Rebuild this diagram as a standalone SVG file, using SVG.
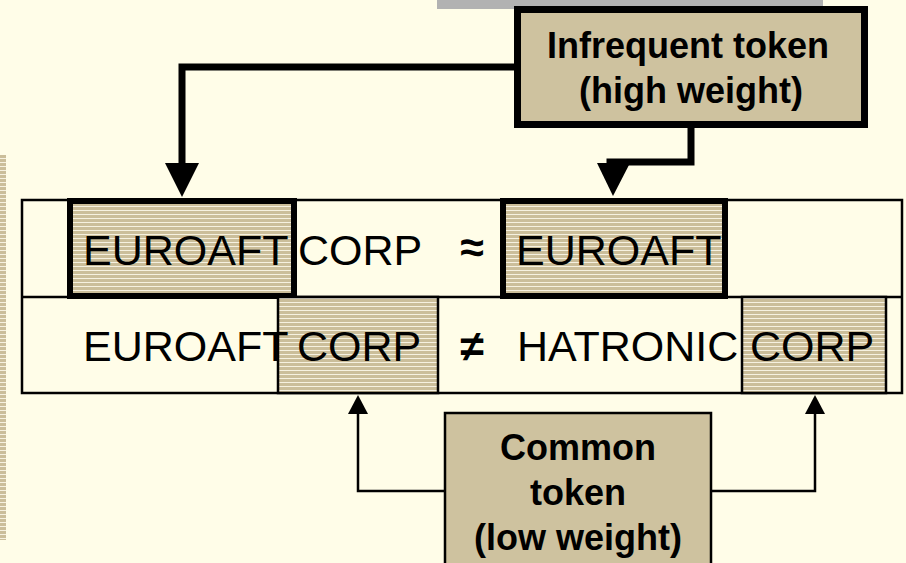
<svg xmlns="http://www.w3.org/2000/svg" width="906" height="563" viewBox="0 0 906 563">
<defs>
<pattern id="stripes" width="8" height="4" patternUnits="userSpaceOnUse">
<rect width="8" height="4" fill="#CBBE9A"/>
<rect y="2" width="8" height="1" fill="#F6F1E0"/>
</pattern>
</defs>
<style>
.tok{font-family:"Liberation Sans",Arial,sans-serif;font-size:43px;fill:#000}
.lbl{font-family:"Liberation Sans",Arial,sans-serif;font-size:36px;font-weight:bold;fill:#000;text-anchor:middle}
.thick{fill:none;stroke:#000;stroke-width:7}
.thin{fill:none;stroke:#000;stroke-width:2.5}
.hl{fill:url(#stripes)}
.lblbox{fill:#CEC29F;stroke:#000}
</style>
<rect width="906" height="563" fill="#FFFDE8"/>
<rect x="437" y="0" width="386" height="9" fill="#B2B2B2"/>
<rect x="0" y="155" width="6" height="385" fill="url(#stripes)"/>

<g id="table">
<rect x="22" y="200" width="880" height="193" fill="#FFFDE8" stroke="#000" stroke-width="2.5"/>
<line x1="22" y1="297" x2="902" y2="297" stroke="#000" stroke-width="2.5"/>
</g>

<g id="row1-euroaft-a">
<rect x="70" y="201" width="224" height="95" class="hl" stroke="#000" stroke-width="6"/>
</g>
<g id="row1-euroaft-b">
<rect x="503" y="201" width="222" height="95" class="hl" stroke="#000" stroke-width="6"/>
</g>
<g id="row2-corp-a">
<rect x="278" y="297" width="160" height="96" class="hl" stroke="#000" stroke-width="2.5"/>
</g>
<g id="row2-corp-b">
<rect x="742" y="297" width="144" height="96" class="hl" stroke="#000" stroke-width="2.5"/>
</g>

<g id="row-texts">
<text class="tok" x="83" y="265">EUROAFT</text>
<text class="tok" x="298" y="265">CORP</text>
<text class="tok" x="472" y="262" font-weight="bold" text-anchor="middle">≈</text>
<text class="tok" x="516" y="265">EUROAFT</text>
<text class="tok" x="83" y="361">EUROAFT</text>
<text class="tok" x="297" y="361">CORP</text>
<text class="tok" x="472" y="361" font-weight="bold" text-anchor="middle">≠</text>
<text class="tok" x="517" y="361">HATRONIC</text>
<text class="tok" x="750" y="361">CORP</text>
</g>

<g id="connectors">
<polyline class="thick" points="517,67 182,67 182,165"/>
<polygon points="165,163 199,163 182,197" fill="#000"/>
<polyline class="thick" points="691,125 691,162 610,162 610,165"/>
<polygon points="597,163 630,163 613,196" fill="#000"/>
<polyline class="thin" points="444,491 358,491 358,412"/>
<polygon points="348,414 368,414 358,395" fill="#000"/>
<polyline class="thin" points="711,491 815,491 815,412"/>
<polygon points="805,414 825,414 815,395" fill="#000"/>
</g>

<g id="infrequent-token">
<rect x="517.5" y="9.5" width="347" height="115" class="lblbox" stroke-width="7"/>
<text class="lbl" x="688" y="58">Infrequent token</text>
<text class="lbl" x="691" y="103">(high weight)</text>
</g>

<g id="common-token">
<rect x="445" y="413" width="266" height="160" class="lblbox" stroke-width="2.5"/>
<text class="lbl" x="578" y="460">Common</text>
<text class="lbl" x="578" y="505">token</text>
<text class="lbl" x="578" y="550">(low weight)</text>
</g>
</svg>
